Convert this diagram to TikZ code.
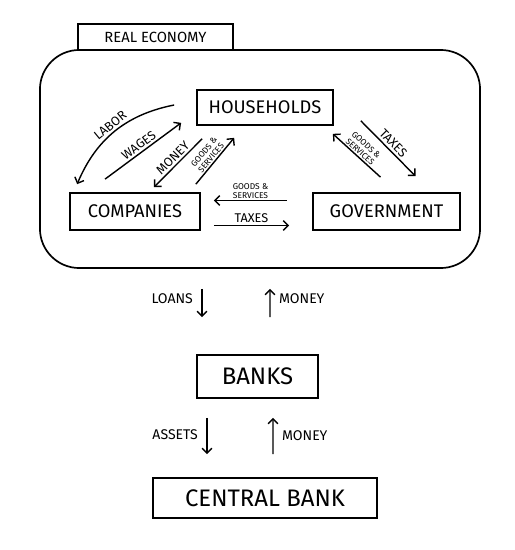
\documentclass[tikz,border=0pt]{standalone}
\usepackage{fontspec}
\setmainfont{Fira Sans}
\usetikzlibrary{arrows.meta}

\begin{document}
\begin{tikzpicture}[
  x=0.025cm, y=-0.025cm,
  box/.style={draw, line width=1.2pt, inner sep=0pt, font=\fontsize{13}{15}\selectfont},
  bigbox/.style={box, font=\fontsize{17}{19}\selectfont},
  arr/.style={line width=1pt, >={Straight Barb[length=3.5pt, width=7pt]}},
  lbl/.style={font=\fontsize{9}{10}\selectfont, inner sep=1.5pt},
  sidelbl/.style={font=\fontsize{10}{12}\selectfont, inner sep=6pt},
  tiny/.style={font=\fontsize{6}{6.5}\selectfont, align=center, inner sep=1pt},
]
  \useasboundingbox (0,0) rectangle (514,550);

  \node[draw, line width=1.2pt, rounded corners=28pt, minimum width=11cm,
        minimum height=5.45cm] (eco) at (260,159) {};
  \node[font=\fontsize{10.5}{12}\selectfont, minimum width=3.85cm,
        minimum height=0.65cm] (re) at (155.5,37) {REAL ECONOMY};
  \draw[line width=1.2pt] (re.south west) |- (re.north east) -- (re.south east);

  \node[box, minimum width=3.4cm, minimum height=0.875cm] (hh) at (265,107.5) {HOUSEHOLDS};
  \node[box, minimum width=3.25cm, minimum height=0.925cm] (co) at (135,211.5) {COMPANIES};
  \node[box, minimum width=3.675cm, minimum height=0.925cm] (gv) at (386.5,211.5) {GOVERNMENT};
  \node[bigbox, minimum width=3.025cm, minimum height=1.075cm] (bk) at (257.5,376.5) {BANKS};
  \node[bigbox, minimum width=5.6cm, minimum height=1cm] (cb) at (265,498) {CENTRAL BANK};

  \draw[arr, <-] ([shift={(8,-8)}]co.north west) to[bend left=28]
    node[lbl, above, sloped] {LABOR} ([shift={(-22,-2.5)}]hh.west);
  \draw[arr, ->] ([shift={(-30,-13)}]co.north) --
    node[lbl, above, sloped] {WAGES} ([shift={(-15,-3)}]hh.south west);
  \draw[arr, <-] ([shift={(-47,-5)}]co.north east) --
    node[lbl, above, sloped] {MONEY} ([shift={(6,13)}]hh.south west);
  \draw[arr, ->] ([shift={(-5,-8)}]co.north east) --
    node[tiny, above, sloped] {GOODS \&\\SERVICES} ([shift={(38,12)}]hh.south west);

  \draw[arr, <-] ([shift={(13,-11)}]co.east) --
    node[tiny, above] {GOODS \&\\SERVICES} ([shift={(-25,-11)}]gv.west);
  \draw[arr, ->] ([shift={(13,14)}]co.east) --
    node[lbl, above] {TAXES} ([shift={(-23,14)}]gv.west);

  \draw[arr, <-] ([shift={(-1,8)}]hh.south east) --
    node[tiny, above, sloped] {GOODS \&\\SERVICES} ([shift={(-6,-15)}]gv.north);
  \draw[arr, ->] ([shift={(27,-5)}]hh.south east) --
    node[lbl, above, sloped] {TAXES} ([shift={(29,-16)}]gv.north);

  \draw[arr, ->] ([shift={(-58,20)}]eco.south) --
    node[sidelbl, left, pos=0.33] {LOANS} ([shift={(-55.5,-37)}]bk.north);
  \draw[arr, ->] ([shift={(12.5,-37)}]bk.north) --
    node[sidelbl, right, pos=0.67] {MONEY} ([shift={(10,20)}]eco.south);
  \draw[arr, ->] ([shift={(-50.5,19)}]bk.south) --
    node[sidelbl, left, pos=0.47] {ASSETS} ([shift={(-58,-23)}]cb.north);
  \draw[arr, ->] ([shift={(8,-23)}]cb.north) --
    node[sidelbl, right, pos=0.5] {MONEY} ([shift={(15.5,19)}]bk.south);
\end{tikzpicture}
\end{document}
